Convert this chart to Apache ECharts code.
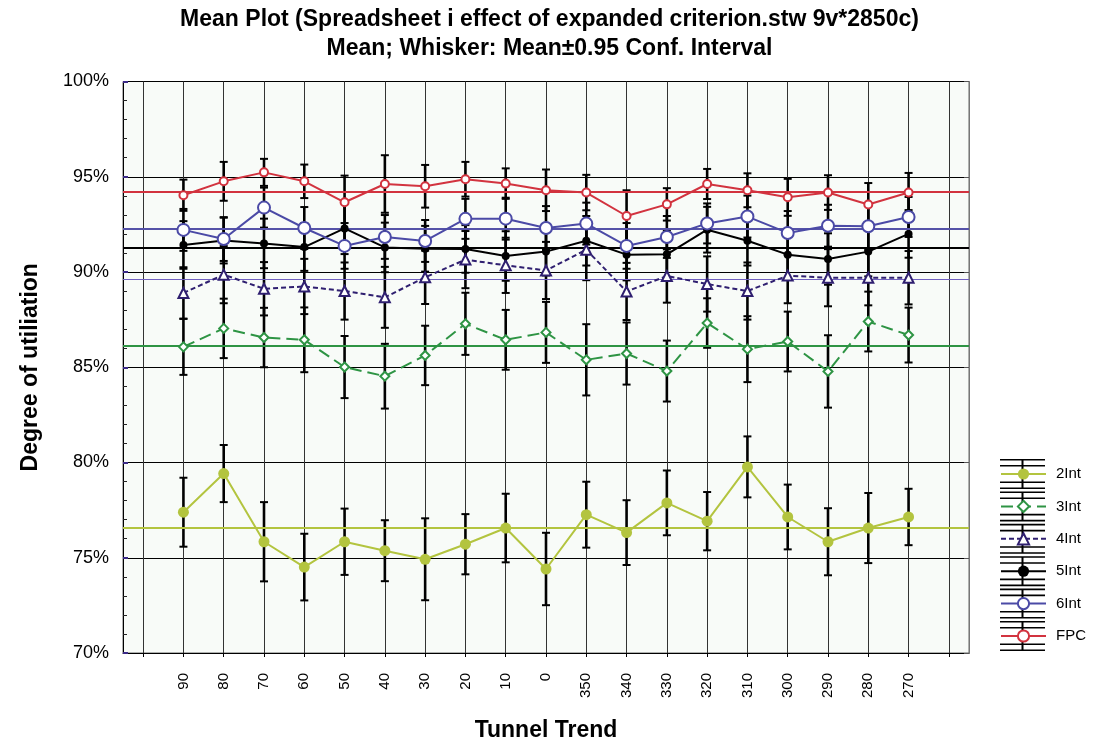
<!DOCTYPE html>
<html>
<head>
<meta charset="utf-8">
<script src="https://cdn.jsdelivr.net/npm/echarts@6/dist/echarts.min.js"></script>
<style>
html,body{margin:0;padding:0;background:#fff;}
#c{width:1099px;height:744px;}
</style>
</head>
<body>
<div id="c"></div>
<script>
// ---- data ----
const labels = ['90','80','70','60','50','40','30','20','10','0','350','340','330','320','310','300','290','280','270'];
const seriesNames = ['2Int','3Int','4Int','5Int','6Int','FPC'];
const mean2 = [77.39,79.42,75.84,74.51,75.84,75.37,74.92,75.71,76.56,74.41,77.26,76.32,77.88,76.92,79.77,77.14,75.84,76.56,77.14];
const ci2   = [1.81,1.50,2.08,1.75,1.74,1.60,2.15,1.58,1.80,1.90,1.73,1.70,1.70,1.53,1.60,1.70,1.76,1.84,1.48];
const mean3 = [86.07,87.04,86.56,86.44,85.01,84.53,85.62,87.28,86.44,86.83,85.39,85.72,84.80,87.32,85.95,86.35,84.78,87.40,86.69];
const ci3   = [1.47,1.56,1.56,1.70,1.63,1.70,1.56,1.63,1.57,1.60,1.87,1.63,1.60,1.30,1.73,1.57,1.90,1.57,1.44];
const mean4 = [88.90,89.86,89.12,89.24,89.00,88.67,89.72,90.65,90.35,90.08,91.17,88.98,89.79,89.37,89.00,89.81,89.70,89.70,89.70];
const ci4   = [1.35,1.50,1.40,1.45,1.50,1.60,1.40,1.50,1.45,1.50,1.60,1.50,1.40,1.45,1.50,1.45,1.50,1.45,1.40];
const mean5 = [91.42,91.65,91.50,91.31,92.29,91.29,91.22,91.21,90.84,91.07,91.64,90.91,90.93,92.22,91.64,90.91,90.68,91.07,92.00];
const ci5   = [1.25,1.20,1.30,1.25,1.35,1.30,1.20,1.25,1.30,1.25,1.30,1.35,1.25,1.20,1.30,1.25,1.35,1.30,1.25];
const mean6 = [92.21,91.73,93.38,92.31,91.37,91.84,91.63,92.79,92.80,92.31,92.54,91.37,91.84,92.55,92.91,92.05,92.43,92.40,92.89];
const ci6   = [1.10,1.15,1.05,1.10,1.20,1.15,1.10,1.05,1.10,1.15,1.10,1.20,1.10,1.05,1.10,1.15,1.10,1.15,1.05];
const meanF = [94.03,94.76,95.23,94.76,93.66,94.62,94.50,94.87,94.64,94.29,94.17,92.94,93.55,94.62,94.29,93.92,94.17,93.54,94.17];
const ciF   = [0.82,1.02,0.71,0.88,1.40,1.51,1.12,0.91,0.80,1.09,0.93,1.35,0.85,0.79,0.89,0.97,0.91,1.13,1.03];
const grandMeans = [76.57,86.11,89.60,91.29,92.26,94.19];
const yTicks = {min:70, max:100, interval:5};

// ---- build ----
const cats = [' '].concat(labels, ['  ']);
const means = [mean2, mean3, mean4, mean5, mean6, meanF];
const cis = [ci2, ci3, ci4, ci5, ci6, ciF];
const colors = ['#b3c43f','#2e9444','#2f1f70','#000000','#4b4aa6','#d2333f'];
const refColors = ['#b3c43f','#2e9444','#7060c0','#000000','#5552a8','#d2333f'];
const refWidths = [2,2,1,2,2,2];
const symbols = ['circle','emptyDiamond','emptyTriangle','circle','emptyCircle','emptyCircle'];
const symSizes = [11,9,10,8,12,8];
const lineTypes = ['solid',[12,6],[5,3],'solid','solid','solid'];
const FONT = 'Liberation Sans, Arial, sans-serif';

const series = [];
// error bars (black whiskers)
seriesNames.forEach((n,k)=>{
  series.push({
    name: 'eb' + n,
    type: 'custom',
    z: 1,
    itemStyle: {color:'#000'},
    data: means[k].map((m,i)=>[i+1, m - cis[k][i], m + cis[k][i]]),
    renderItem: function(params, api){
      const x = api.value(0), lo = api.value(1), hi = api.value(2);
      const a = api.coord([x, hi]), b = api.coord([x, lo]);
      const w = 4;
      return {type:'group', children:[
        {type:'line', shape:{x1:a[0], y1:a[1], x2:b[0], y2:b[1]}, style:{stroke:'#000', lineWidth:2.6}},
        {type:'line', shape:{x1:a[0]-w, y1:a[1], x2:a[0]+w, y2:a[1]}, style:{stroke:'#000', lineWidth:2}},
        {type:'line', shape:{x1:b[0]-w, y1:b[1], x2:b[0]+w, y2:b[1]}, style:{stroke:'#000', lineWidth:2}}
      ]};
    }
  });
});
// mean lines
seriesNames.forEach((n,k)=>{
  series.push({
    name: n,
    type: 'line',
    z: 5,
    data: means[k].map((m,i)=>[i+1, m]),
    symbol: symbols[k],
    symbolSize: symSizes[k],
    showAllSymbol: true,
    color: colors[k],
    itemStyle: {color: colors[k], borderWidth: 1.3},
    lineStyle: {color: colors[k], width: 2, type: lineTypes[k]},
    markLine: {
      silent: true, symbol: 'none', animation: false,
      label: {show:false},
      lineStyle: {color: refColors[k], width: refWidths[k], type:'solid'},
      data: [{yAxis: grandMeans[k]}]
    },
    animation: false
  });
});

const chart = echarts.init(document.getElementById('c'));
chart.setOption({
  animation: false,
  backgroundColor: '#ffffff',
  title: {
    text: 'Mean Plot (Spreadsheet i effect of expanded criterion.stw 9v*2850c)\nMean; Whisker: Mean\u00b10.95 Conf. Interval',
    left: 'center', top: 0,
    textStyle: {fontFamily: FONT, fontSize: 23, fontWeight:'bold', color:'#000', lineHeight: 29}
  },
  grid: {left: 123, right: 130, top: 81.5, bottom: 91, outerBoundsMode: 'none', containLabel: false,
         show: true, backgroundColor: '#f8fbf8', borderColor: '#666', borderWidth: 1},
  legend: [{
    orient: 'vertical', left: 1000, top: 466.5, padding: 0,
    itemWidth: 45, itemHeight: 14, itemGap: 17.4,
    data: seriesNames,
    textStyle: {fontFamily: FONT, fontSize: 15, color:'#000', lineHeight: 14, padding:[0,0,0,5]},
    z: 10
  },{
    orient: 'vertical', left: 1000, top: 459, padding: 0,
    itemWidth: 45, itemHeight: 30, itemGap: 2.4,
    data: seriesNames.map(n=>({name:'eb'+n, icon:'path://M0,0H45V1.6H0Z M0,6H45V7.6H0Z M0,22.4H45V24H0Z M0,28.4H45V30H0Z M21.5,0H23.5V30H21.5Z'})),
    formatter: function(){ return ''; },
    textStyle: {fontSize: 10, lineHeight: 10},
    selectedMode: false,
    z: 9
  }],
  xAxis: [{
    type: 'category',
    data: cats,
    boundaryGap: true,
    name: 'Tunnel Trend', nameLocation: 'middle', nameGap: 66,
    nameTextStyle: {fontFamily: FONT, fontSize: 23, fontWeight:'bold', color:'#000'},
    axisLine: {show: true, lineStyle: {color:'#000', width: 1}},
    axisTick: {show: true, alignWithLabel: true, length: 4, interval: 0, lineStyle:{color:'#000'}},
    axisLabel: {interval: 0, rotate: 90, margin: 20, fontFamily: FONT, fontSize: 15, color:'#000'},
    splitLine: {show: true, alignWithLabel: true, interval: 0, lineStyle: {color:'#333', width: 1}}
  }],
  yAxis: [{
    type: 'value',
    min: yTicks.min, max: yTicks.max, interval: yTicks.interval,
    name: 'Degree of utiliation', nameLocation: 'middle', nameGap: 81, nameRotate: 90,
    nameTextStyle: {fontFamily: FONT, fontSize: 23, fontWeight:'bold', color:'#000'},
    axisLine: {show: true, lineStyle: {color:'#000', width: 1}},
    axisTick: {show: true, inside: true, length: 5, lineStyle:{color:'#3b2a88', width: 2}},
    minorTick: {show: true, splitNumber: 5, length: 4, lineStyle:{color:'#222', width: 1}},
    axisLabel: {formatter: '{value}%', margin: 14, fontFamily: FONT, fontSize: 18, color:'#000'},
    splitLine: {show: true, lineStyle: {color:'#000', width: 1}}
  },{
    type: 'value', position: 'right',
    min: yTicks.min, max: yTicks.max, interval: yTicks.interval,
    axisLine: {show: true, lineStyle: {color:'#777', width: 1}},
    axisTick: {show: true, inside: true, length: 5, lineStyle:{color:'#555'}},
    axisLabel: {show: false},
    splitLine: {show: false}
  }],
  series: series
});
</script>
</body>
</html>
